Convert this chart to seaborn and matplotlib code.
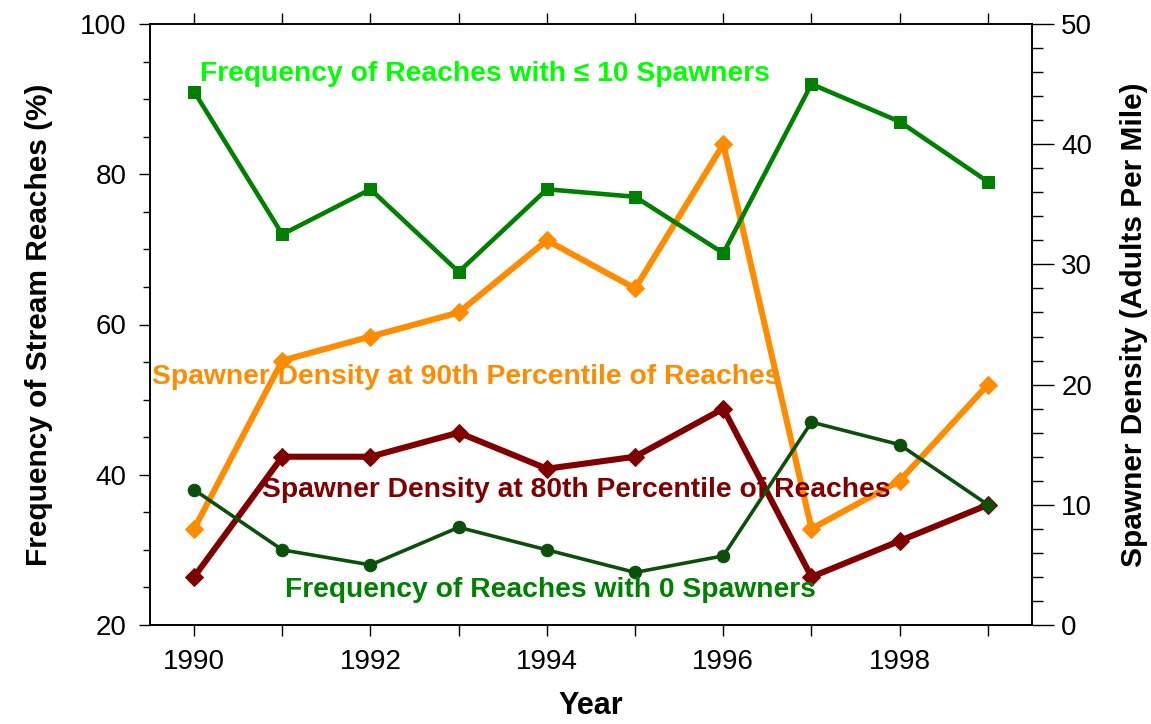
import numpy as np
import pandas as pd
import seaborn as sns
import matplotlib.pyplot as plt
from matplotlib.ticker import MultipleLocator

years = [1990, 1991, 1992, 1993, 1994, 1995, 1996, 1997, 1998, 1999]
freq_le10 = [91, 72, 78, 67, 78, 77, 69.5, 92, 87, 79]
freq_zero = [38, 30, 28, 33, 30, 27, 29.2, 47, 44, 36]
dens_90th = [8, 22, 24, 26, 32, 28, 40, 8, 12, 20]
dens_80th = [4, 14, 14, 16, 13, 14, 18, 4, 7, 10]

df = pd.DataFrame({'Year': years, 'le10': freq_le10, 'zero': freq_zero,
                   'p90': dens_90th, 'p80': dens_80th})

sns.set_style("ticks")
plt.rcParams['font.family'] = ['Liberation Sans', 'DejaVu Sans']

fig, ax = plt.subplots(figsize=(11.51, 7.24), dpi=100)
fig.subplots_adjust(left=150/1151, right=1032/1151, top=1-24/724, bottom=1-625/724)
ax2 = ax.twinx()

# right axis series (spawner density)
sns.lineplot(data=df, x='Year', y='p90', ax=ax2, color='#FF8C00', linewidth=4.4,
             marker='D', markersize=9.5, markeredgecolor='#FF8C00')
sns.lineplot(data=df, x='Year', y='p80', ax=ax2, color='#800000', linewidth=4.4,
             marker='D', markersize=9.5, markeredgecolor='#800000')

# left axis series (frequency)
sns.lineplot(data=df, x='Year', y='le10', ax=ax, color='#008000', linewidth=3.3,
             marker='s', markersize=8.5, markeredgecolor='#008000')
sns.lineplot(data=df, x='Year', y='zero', ax=ax, color='#0B4F0B', linewidth=2.6,
             marker='o', markersize=9, markeredgecolor='#0B4F0B')

ax.set_zorder(ax2.get_zorder() + 1)
ax.patch.set_visible(False)

ax.set_xlim(1989.5, 1999.5)
ax.set_ylim(20, 100)
ax2.set_ylim(0, 50)
ax.set_xticks(years)
ax.set_xticklabels([str(y) if y % 2 == 0 else '' for y in years])
ax.yaxis.set_major_locator(MultipleLocator(20))
ax.yaxis.set_minor_locator(MultipleLocator(5))
ax2.yaxis.set_major_locator(MultipleLocator(10))
ax2.yaxis.set_minor_locator(MultipleLocator(2))

ax.tick_params(axis='x', which='both', top=True, direction='out', length=8, width=1,
               labelsize=20, pad=9, labelcolor='black', color='black')
ax.tick_params(axis='y', which='major', direction='out', length=8, width=1, labelsize=20,
               pad=9, labelcolor='black', color='black')
ax.tick_params(axis='y', which='minor', direction='out', length=5, width=1, color='black')
ax2.tick_params(axis='y', which='major', direction='out', length=16, width=1, labelsize=20,
                pad=5, labelcolor='black', color='black')
ax2.tick_params(axis='y', which='minor', direction='out', length=8, width=1, color='black')

for a in (ax, ax2):
    for s in a.spines.values():
        s.set_visible(True)
        s.set_linewidth(1.2)
        s.set_color('black')

ax.set_xlabel('Year', fontsize=22, fontweight='bold', labelpad=12, color='black')
ax.set_ylabel('Frequency of Stream Reaches (%)', fontsize=21.5, fontweight='bold',
              labelpad=19, color='black')
ax2.set_ylabel('Spawner Density (Adults Per Mile)', fontsize=21.5, fontweight='bold',
               labelpad=20, color='black')

lab = dict(fontsize=20.3, fontweight='bold', va='center', ha='left', zorder=5)
ax.text(1990.07, 93.4, 'Frequency of Reaches with \u2264 10 Spawners', color='#00FF00', **lab)
ax.text(1989.52, 53.0, 'Spawner Density at 90th Percentile of Reaches', color='#FF8C00', **lab)
ax.text(1990.77, 38.0, 'Spawner Density at 80th Percentile of Reaches', color='#800000', **lab)
ax.text(1991.03, 24.7, 'Frequency of Reaches with 0 Spawners', color='#008000', **lab)

fig.savefig('out.png', dpi=100)
